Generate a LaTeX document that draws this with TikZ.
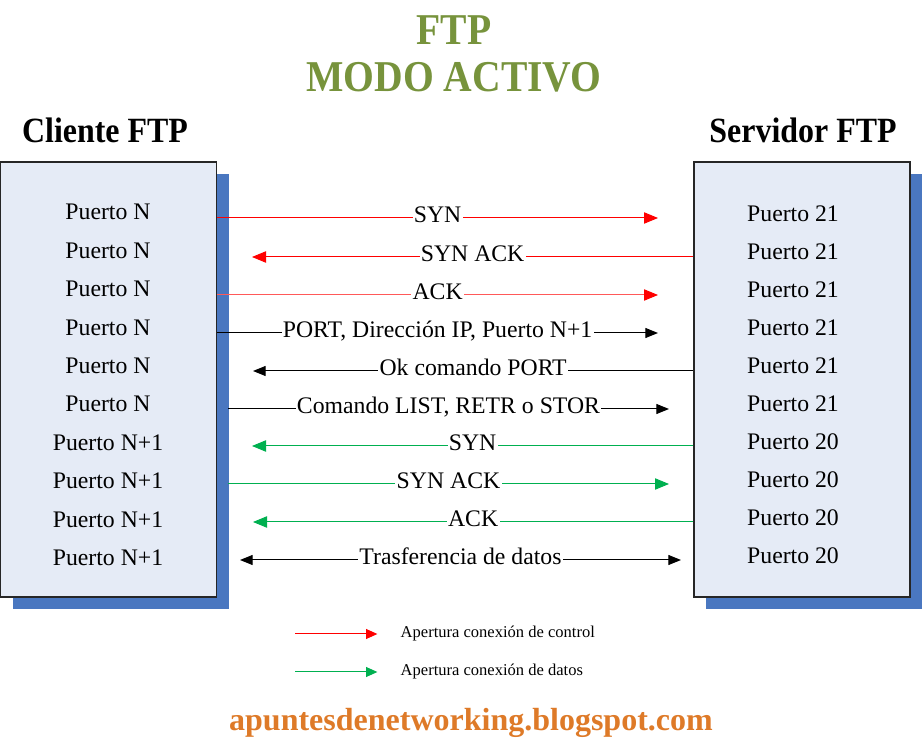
\documentclass[tikz,border=0pt]{standalone}
\usepackage{fontspec}
\setmainfont{Liberation Serif}
\newfontfamily\narrowfont[FakeStretch=0.9]{Liberation Serif}
\usetikzlibrary{arrows.meta,shadows}

\definecolor{titlegreen}{RGB}{119,147,60}
\definecolor{boxfill}{RGB}{229,235,246}
\definecolor{shadowblue}{RGB}{74,119,192}
\definecolor{datagreen}{RGB}{0,176,80}
\definecolor{weborange}{RGB}{222,122,40}

\tikzset{
  title/.style={anchor=base, text=titlegreen, font=\narrowfont\bfseries\fontsize{33}{36}\selectfont},
  hostname/.style={anchor=base, font=\narrowfont\bfseries\fontsize{26.6}{30}\selectfont},
  host/.style={draw=black!85, line width=1.1pt, fill=boxfill, minimum width=162pt, minimum height=326pt,
    drop shadow={shadow xshift=9pt, shadow yshift=-9pt, fill=shadowblue, opacity=1}},
  port/.style={anchor=base, font=\fontsize{17.8}{20}\selectfont},
  msg/.style={fill=white, text=black, inner xsep=1pt, inner ysep=0pt, text height=1.45ex, text depth=0pt,
    font=\fontsize{17.8}{20}\selectfont},
  tip/.style={-{Triangle[length=10.5pt, width=8.5pt]}},
  ctrl/.style={tip, red, line width=0.75pt},
  data/.style={tip, datagreen, line width=0.75pt},
  cmd/.style={-{Triangle[length=9.5pt, width=7.5pt]}, black, line width=0.75pt},
  legend/.style={anchor=west, font=\fontsize{12.4}{14}\selectfont},
  web/.style={anchor=base, text=weborange, font=\bfseries\fontsize{24}{28}\selectfont}
}

\begin{document}
\begin{tikzpicture}[x=0.75pt, y=-0.75pt]
  \useasboundingbox (0,0) rectangle (922,741);

  % Title
  \node[title] (ftp) at (454,45) {FTP};
  \node[title] (mode) at (454,92) {MODO ACTIVO};

  % Hosts
  \node[hostname] (clientname) at (105,143) {Cliente FTP};
  \node[hostname] (servername) at (803,143) {Servidor FTP};
  \node[host] (client) at (108.5,379.5) {};
  \node[host] (server) at (802,379.5) {};

  % Ports
  \foreach \i in {1,...,10}{
    \ifnum\i<7 \def\cport{N}\def\sport{21}\else \def\cport{N+1}\def\sport{20}\fi
    \node[port] (c\i) at (108,{220+38.4*(\i-1)}) {Puerto \cport};
    \node[port] (s\i) at (793,{222+38*(\i-1)}) {Puerto \sport};
  }

  % Messages
  \coordinate (e1) at (658,218);
  \draw[ctrl] (client.east |- e1) -- node[msg]{SYN} (e1);
  \coordinate (e2) at (252,257);
  \draw[ctrl] (server.west |- e2) -- node[msg]{SYN ACK} (e2);
  \coordinate (e3) at (658,295);
  \draw[ctrl, draw=red!65, -{Triangle[length=10.5pt, width=8.5pt, color=red]}] (client.east |- e3) -- node[msg]{ACK} (e3);
  \coordinate (e4) at (658,333);
  \draw[cmd] (client.east |- e4) -- node[msg]{PORT, Dirección IP, Puerto N+1} (e4);
  \coordinate (e5) at (253,371);
  \draw[cmd] (server.west |- e5) -- node[msg]{Ok comando PORT} (e5);
  \coordinate (b6) at (228,409);
  \coordinate (e6) at (669,409);
  \draw[cmd] (b6) -- node[msg]{Comando LIST, RETR o STOR} (e6);
  \coordinate (e7) at (252,446);
  \draw[data] (server.west |- e7) -- node[msg]{SYN} (e7);
  \coordinate (b8) at (228,484);
  \coordinate (e8) at (669,484);
  \draw[data] (b8) -- node[msg]{SYN ACK} (e8);
  \coordinate (e9) at (253,522);
  \draw[data] (server.west |- e9) -- node[msg]{ACK} (e9);
  \coordinate (b10) at (240,560);
  \coordinate (e10) at (681,560);
  \draw[cmd, {Triangle[length=9.5pt, width=7.5pt]}-{Triangle[length=9.5pt, width=7.5pt]}] (b10) -- node[msg]{Trasferencia de datos} (e10);

  % Legend
  \node[legend] (lctrl) at (396,634) {Apertura conexión de control};
  \node[legend] (ldata) at (396,672) {Apertura conexión de datos};
  \coordinate (lc) at (295,634);
  \coordinate (ld) at (295,672);
  \draw[ctrl, -{Triangle[length=8.5pt, width=7.5pt]}] (lc) -- ([xshift=-14pt]lctrl.west);
  \draw[data, -{Triangle[length=8.5pt, width=7.5pt]}] (ld) -- ([xshift=-14pt]ldata.west);

  % Footer
  \node[web] (blog) at (471,730) {apuntesdenetworking.blogspot.com};
\end{tikzpicture}
\end{document}
